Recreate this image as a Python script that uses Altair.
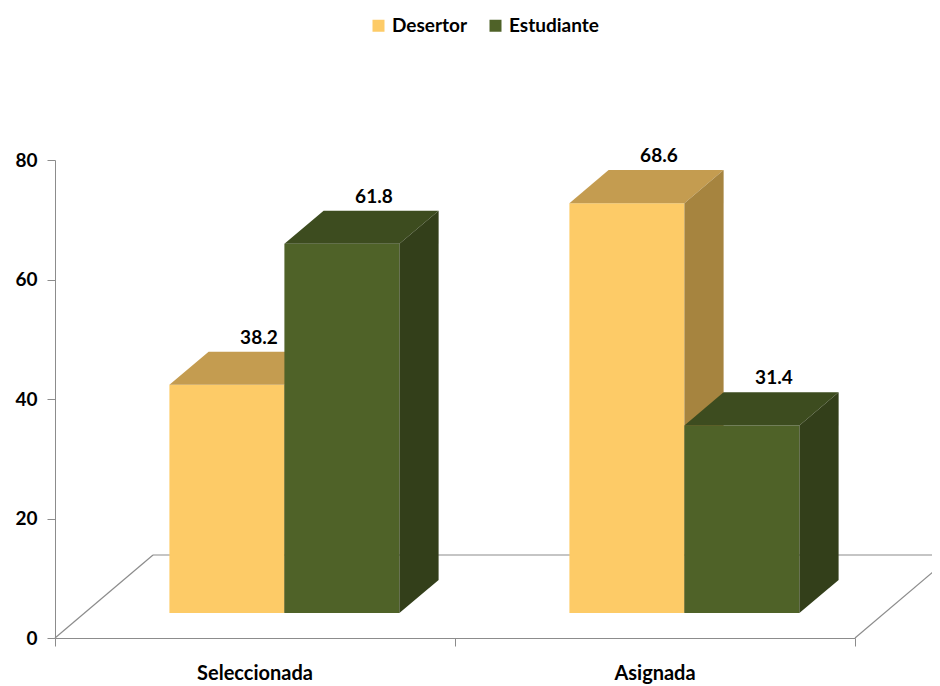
import altair as alt
import pandas as pd

# ---- data ----
categories = ["Seleccionada", "Asignada"]
series = ["Desertor", "Estudiante"]
desertor = [38.2, 68.6]
estudiante = [61.8, 31.4]
y_ticks = [0, 20, 40, 60, 80]

# ---- style / geometry (oblique 3D projection in data units) ----
FONT = "Lato"
FRONT = {"Desertor": "#FDCB67", "Estudiante": "#4F6228"}
TOPC = {"Desertor": "#C49C50", "Estudiante": "#3D4C1F"}
SIDEC = {"Desertor": "#A6843F", "Estudiante": "#333F1A"}
DX, DY = 0.245, 13.89      # full floor depth expressed in x / y units
D0, D1 = 0.30, 0.70        # bar depth span (fraction of floor depth)
BW = 0.2875                # bar width in x units
GRAY = "#8C8C8C"

values = {"Desertor": desertor, "Estudiante": estudiante}

front_rows, face_rows, label_rows = {}, {}, []
for s in series:
    front_rows[s] = []
    face_rows[s] = []
for ci, cat in enumerate(categories):
    for si, s in enumerate(series):
        v = values[s][ci]
        x0 = ci + 0.5 - BW + si * BW + D0 * DX
        x1 = x0 + BW
        base = D0 * DY
        top = base + v
        ddx = (D1 - D0) * DX
        ddy = (D1 - D0) * DY
        front_rows[s].append({"x": x0, "x2": x1, "y": base, "y2": top, "serie": s})
        k = f"{s}-{cat}"
        pts_top = [(x0, top, top), (x0 + ddx, top, top + ddy),
                   (x1, top, top + ddy), (x1 + ddx, top + ddy, top + ddy)]
        for px, lo, hi in pts_top:
            face_rows[s].append({"key": k + "-top", "x": px, "lo": lo, "hi": hi, "fc": TOPC[s]})
        pts_side = [(x1, base, top), (x1 + ddx, base + ddy, top + ddy)]
        for px, lo, hi in pts_side:
            face_rows[s].append({"key": k + "-side", "x": px, "lo": lo, "hi": hi, "fc": SIDEC[s]})
        label_rows.append({"x": x0 + BW / 2 + 0.08, "y": top + ddy, "txt": f"{v:.1f}"})

ncat = len(categories)
floor = pd.DataFrame([
    {"seg": "back", "x": DX, "y": DY},
    {"seg": "back", "x": ncat + DX, "y": DY},
    {"seg": "left", "x": 0, "y": 0},
    {"seg": "left", "x": DX, "y": DY},
    {"seg": "right", "x": ncat, "y": 0},
    {"seg": "right", "x": ncat + DX, "y": DY},
])

xscale = alt.Scale(domain=[0, ncat], nice=False, zero=False)
yscale = alt.Scale(domain=[0, 80], nice=False, zero=False)

xaxis = alt.Axis(values=list(range(ncat + 1)), labels=False, title=None, grid=False,
                 domainColor=GRAY, tickColor=GRAY, tickSize=8)
yaxis = alt.Axis(values=y_ticks, title=None, grid=False, domainColor=GRAY, tickColor=GRAY,
                 tickSize=8, labelPadding=10, labelFontSize=19, labelFontWeight="bold",
                 labelColor="black", labelFont=FONT)

floor_layer = alt.Chart(floor).mark_line(color=GRAY, strokeWidth=1.2).encode(
    x=alt.X("x:Q", scale=xscale, axis=xaxis),
    y=alt.Y("y:Q", scale=yscale, axis=yaxis),
    detail="seg:N",
)

color_scale = alt.Scale(domain=series, range=[FRONT[s] for s in series])
legend = alt.Legend(title=None, orient="none", legendX=314, legendY=-144, direction="horizontal",
                    symbolType="square", symbolSize=144, symbolStrokeWidth=0,
                    labelFontSize=19, labelFontWeight="bold", labelColor="black", labelFont=FONT,
                    labelOffset=4, columnPadding=18, padding=0)

layers = [floor_layer]
for n, s in enumerate(series):
    layers.append(
        alt.Chart(pd.DataFrame(front_rows[s])).mark_rect().encode(
            x=alt.X("x:Q", scale=xscale),
            x2="x2:Q",
            y=alt.Y("y:Q", scale=yscale),
            y2="y2:Q",
            color=alt.Color("serie:N", scale=color_scale, legend=legend if n == 0 else None),
        )
    )
    layers.append(
        alt.Chart(pd.DataFrame(face_rows[s])).mark_area(orient="vertical").encode(
            x=alt.X("x:Q", scale=xscale),
            y=alt.Y("lo:Q", scale=yscale, stack=None),
            y2="hi:Q",
            color=alt.Color("fc:N", scale=None, legend=None),
            detail="key:N",
        )
    )

labels = alt.Chart(pd.DataFrame(label_rows)).mark_text(
    font=FONT, fontSize=19, fontWeight="bold", color="black", align="center",
    baseline="alphabetic", dy=-8,
).encode(x=alt.X("x:Q", scale=xscale), y=alt.Y("y:Q", scale=yscale), text="txt:N")

cat_df = pd.DataFrame({"cat": categories, "x": [i + 0.5 for i in range(ncat)], "y": [0] * ncat})
cat_labels = alt.Chart(cat_df).mark_text(
    font=FONT, fontSize=20, fontWeight="bold", color="black", align="center",
    baseline="alphabetic", dy=42,
).encode(x=alt.X("x:Q", scale=xscale), y=alt.Y("y:Q", scale=yscale), text="cat:N")

layers += [labels, cat_labels]

chart = alt.layer(*layers).resolve_scale(color="independent").properties(
    width=800, height=478,
    autosize=alt.AutoSizeParams(type="none"),
    padding={"left": 47, "top": 152, "right": 77, "bottom": 48},
).configure(font=FONT, background="white").configure_view(strokeWidth=0, stroke="transparent")

chart.save("out.html", embed_options={"renderer": "svg", "actions": False})
